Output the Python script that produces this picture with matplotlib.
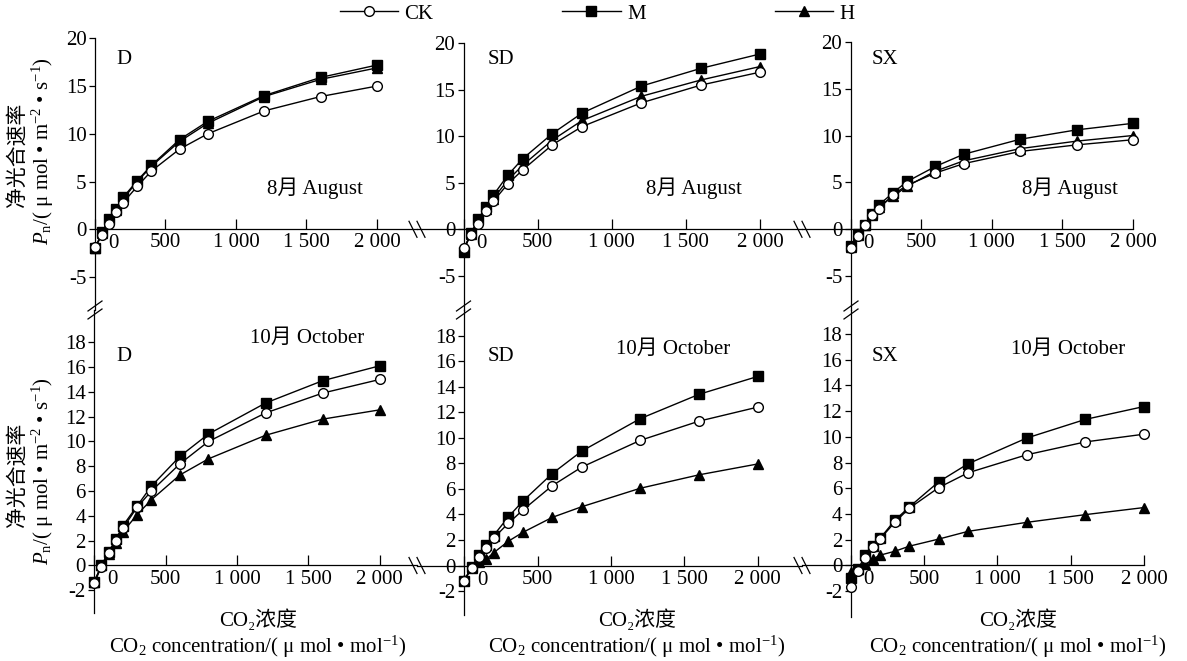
import matplotlib.pyplot as plt
from matplotlib.lines import Line2D
from matplotlib.ticker import FuncFormatter

plt.rcParams['font.family'] = ['Liberation Serif', 'Noto Sans CJK SC', 'DejaVu Sans']
plt.rcParams['mathtext.fontset'] = 'custom'
plt.rcParams['mathtext.rm'] = 'Liberation Serif'
plt.rcParams['mathtext.it'] = 'Liberation Serif:italic'
plt.rcParams['axes.unicode_minus'] = False
plt.rcParams['font.size'] = 15

# CO2 concentration steps
co2 = [0, 50, 100, 150, 200, 300, 400, 600, 800, 1200, 1600, 2000]

# August
aug_D_CK = [-1.9, -0.6, 0.6, 1.8, 2.8, 4.5, 6.1, 8.4, 10.0, 12.4, 13.9, 15.0]
aug_D_M = [-2.0, -0.3, 1.1, 2.1, 3.35, 5.1, 6.7, 9.4, 11.3, 14.0, 15.9, 17.2]
aug_D_H = [-2.0, -0.4, 1.0, 2.0, 3.2, 5.0, 6.6, 9.2, 11.1, 13.9, 15.7, 16.9]

aug_SD_CK = [-2.0, -0.6, 0.6, 2.0, 3.0, 4.9, 6.4, 9.1, 11.05, 13.6, 15.5, 16.9]
aug_SD_M = [-2.4, -0.4, 1.1, 2.45, 3.65, 5.85, 7.6, 10.3, 12.5, 15.4, 17.3, 18.85]
aug_SD_H = [-2.2, -0.5, 1.0, 2.2, 3.3, 5.3, 6.9, 9.6, 11.7, 14.3, 16.05, 17.5]

aug_SX_CK = [-2.0, -0.7, 0.5, 1.5, 2.2, 3.7, 4.7, 6.0, 7.0, 8.3, 9.0, 9.55]
aug_SX_M = [-1.8, -0.5, 0.5, 1.6, 2.6, 3.9, 5.1, 6.7, 8.0, 9.6, 10.6, 11.3]
aug_SX_H = [-1.9, -0.6, 0.5, 1.5, 2.4, 3.5, 4.6, 6.2, 7.3, 8.6, 9.4, 10.0]

# October
oct_D_CK = [-1.4, -0.1, 1.0, 2.0, 3.0, 4.7, 6.0, 8.2, 10.0, 12.3, 13.9, 15.0]
oct_D_M = [-1.3, 0.0, 1.1, 2.1, 3.2, 4.8, 6.4, 8.8, 10.6, 13.1, 14.9, 16.1]
oct_D_H = [-1.3, 0.0, 0.9, 1.8, 2.7, 4.1, 5.3, 7.3, 8.6, 10.5, 11.8, 12.55]

oct_SD_CK = [-1.2, -0.2, 0.65, 1.35, 2.15, 3.3, 4.35, 6.25, 7.7, 9.8, 11.3, 12.4]
oct_SD_M = [-1.2, -0.1, 0.85, 1.6, 2.35, 3.8, 5.05, 7.2, 8.95, 11.5, 13.4, 14.8]
oct_SD_H = [-1.1, -0.2, 0.25, 0.5, 1.0, 1.9, 2.6, 3.77, 4.6, 6.05, 7.1, 7.95]

oct_SX_CK = [-1.7, -0.45, 0.6, 1.4, 2.05, 3.35, 4.45, 6.05, 7.2, 8.6, 9.6, 10.2]
oct_SX_M = [-1.0, -0.3, 0.8, 1.55, 2.1, 3.5, 4.55, 6.5, 7.9, 9.9, 11.35, 12.35]
oct_SX_H = [-0.5, -0.25, 0.1, 0.5, 0.8, 1.1, 1.5, 2.05, 2.65, 3.35, 3.95, 4.5]

sites = ['D', 'SD', 'SX']
month_aug = '8月 August'
month_oct = '10月 October'
xticks = [0, 500, 1000, 1500, 2000]
yticks_aug = [-5, 0, 5, 10, 15, 20]
yticks_oct = [-2, 0, 2, 4, 6, 8, 10, 12, 14, 16, 18]

W, H = 1187, 661
fig = plt.figure(figsize=(W / 100, H / 100), dpi=100)


def fx(px):
    return px / W


def fy(py):
    return 1 - py / H


# layout in pixels: (left, right, top, bottom), xlim, ylim
layout = [
    ((95, 417, 38.3, 310), (0, 2284), (-8.45, 20)),
    ((417, 802, 43.3, 310), (-314, 2283), (-8.68, 20)),
    ((802, 1133, 41.7, 310), (-345, 2000), (-8.6, 20)),
    ((94.3, 417, 310, 613), (0, 2261), (-3.83, 20.6)),
    ((417, 802, 310, 615), (-322, 2302), (-3.87, 20.0)),
    ((802, 1144, 310, 616.7), (-332, 2000), (-3.98, 19.85)),
]

series = [
    (aug_D_CK, aug_D_M, aug_D_H),
    (aug_SD_CK, aug_SD_M, aug_SD_H),
    (aug_SX_CK, aug_SX_M, aug_SX_H),
    (oct_D_CK, oct_D_M, oct_D_H),
    (oct_SD_CK, oct_SD_M, oct_SD_H),
    (oct_SX_CK, oct_SX_M, oct_SX_H),
]

ck_style = dict(color='black', lw=1.0, marker='o', ms=7, mfc='white', mec='black', mew=1.0)
m_style = dict(color='black', lw=1.0, marker='s', ms=6.5, mfc='black', mec='black')
h_style = dict(color='black', lw=1.0, marker='^', ms=6.5, mfc='black', mec='black')


def xfmt(v, pos):
    if v == 0:
        return ''
    return '{:,}'.format(int(v)).replace(',', ' ')


for i, ((l, r, t, b), xl, yl) in enumerate(layout):
    ax = fig.add_axes([fx(l), fy(b), fx(r) - fx(l), (t - b) / -H])
    ax.patch.set_visible(False)
    ck, m, h = series[i]
    ax.plot(co2, h, clip_on=False, zorder=3, **h_style)
    ax.plot(co2, m, clip_on=False, zorder=4, **m_style)
    ax.plot(co2, ck, clip_on=False, zorder=5, **ck_style)
    ax.set_xlim(*xl)
    ax.set_ylim(*yl)
    for s in ['top', 'right']:
        ax.spines[s].set_visible(False)
    ax.spines['left'].set_position(('data', 0))
    ax.spines['bottom'].set_position(('data', 0))
    for s in ['left', 'bottom']:
        ax.spines[s].set_linewidth(0.9)
    ax.set_xticks(xticks)
    ax.xaxis.set_major_formatter(FuncFormatter(xfmt))
    ax.set_yticks(yticks_aug if i < 3 else yticks_oct)
    ax.yaxis.set_major_formatter(FuncFormatter(lambda v, p: '{:g}'.format(v)))
    ax.tick_params(axis='x', direction='in', length=7, width=0.9, pad=3, labelsize=15)
    ax.tick_params(axis='y', direction='out', length=4, width=0.9, pad=2, labelsize=15)
    ax.annotate('0', xy=(0, 0), xycoords='data', xytext=(18, -5),
                textcoords='offset pixels', ha='center', va='top', fontsize=15)

# site and month labels
site_pos = [(124, 60), (501, 60), (885, 60), (124, 357), (501, 357), (885, 357)]
month_pos = [(315, 188), (694, 188), (1070, 188), (307, 338), (673, 349), (1068, 349)]
for i in range(6):
    fig.text(fx(site_pos[i][0]), fy(site_pos[i][1]), sites[i % 3], ha='center', va='center', fontsize=15)
    fig.text(fx(month_pos[i][0]), fy(month_pos[i][1]), month_aug if i < 3 else month_oct,
             ha='center', va='center', fontsize=15)

# y labels
for yc in [155, 475]:
    fig.text(fx(18), fy(yc), '净光合速率', rotation=90, ha='center', va='center',
             fontsize=15, family='Noto Sans CJK SC')
    fig.text(fx(43), fy(yc - 4), r'$P_{\rm n}$/( μ mol • m$^{-2}$ • s$^{-1}$)', rotation=90,
             ha='center', va='center', fontsize=15)

# x labels
for xc in [258, 637, 1018]:
    fig.text(fx(xc), fy(620), 'CO₂浓度', ha='center', va='center', fontsize=15,
             family=['Liberation Serif', 'Noto Sans CJK SC', 'DejaVu Sans'])
    fig.text(fx(xc), fy(647), r'CO$_2$ concentration/( μ mol • mol$^{-1}$)', ha='center',
             va='center', fontsize=15)

# axis breaks
def brk(x0, y0, x1, y1):
    fig.add_artist(Line2D([fx(x0), fx(x1)], [fy(y0), fy(y1)], color='black', lw=0.9))

for yz in [229.3, 565.5]:
    for xb in [417, 802]:
        for d in [-4, 4]:
            brk(xb + d - 4, yz - 8, xb + d + 4, yz + 8)
for xs in [95, 463.5, 851]:
    for d in [-4, 4]:
        brk(xs - 7, 310 + d + 5, xs + 7, 310 + d - 5)

# legend
handles = [Line2D([], [], **ck_style), Line2D([], [], **m_style), Line2D([], [], **h_style)]
fig.legend(handles, ['CK', 'M', 'H'], loc='center', bbox_to_anchor=(fx(597), fy(14)), ncol=3,
           frameon=False, handlelength=2.8, handletextpad=0.3, columnspacing=6.2,
           borderpad=0, fontsize=15)

fig.savefig('out.png', dpi=100)
